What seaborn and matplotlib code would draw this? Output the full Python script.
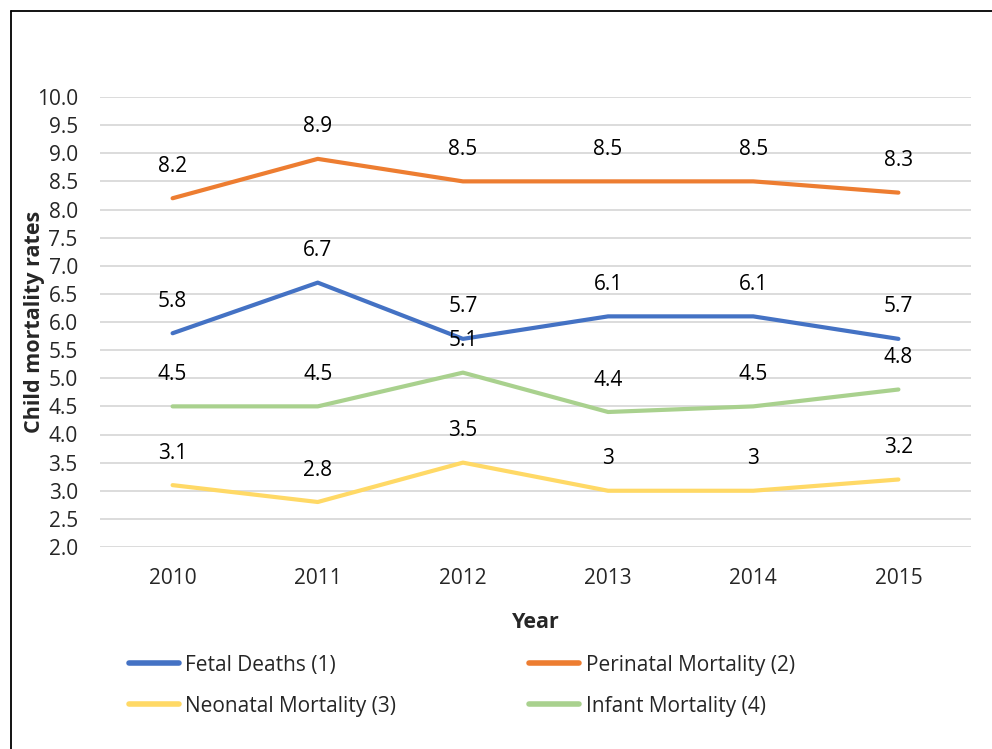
import pandas as pd
import matplotlib.pyplot as plt
import seaborn as sns
from matplotlib.lines import Line2D
import numpy as np

years = ["2010", "2011", "2012", "2013", "2014", "2015"]
fetal = [5.8, 6.7, 5.7, 6.1, 6.1, 5.7]
perinatal = [8.2, 8.9, 8.5, 8.5, 8.5, 8.3]
neonatal = [3.1, 2.8, 3.5, 3.0, 3.0, 3.2]
infant = [4.5, 4.5, 5.1, 4.4, 4.5, 4.8]

series_names = ["Fetal Deaths (1)", "Perinatal Mortality (2)",
                "Neonatal Mortality (3)", "Infant Mortality (4)"]
series_values = [fetal, perinatal, neonatal, infant]
colors = ["#4472C4", "#ED7D31", "#FFD966", "#A9D18E"]

rows = []
for name, vals in zip(series_names, series_values):
    for y, v in zip(years, vals):
        rows.append({"Year": y, "Rate": v, "Series": name})
df = pd.DataFrame(rows)

sns.set_style("white")
plt.rcParams['font.family'] = ['Open Sans', 'DejaVu Sans']

fig = plt.figure(figsize=(9.92, 7.49), dpi=100)
ax = fig.add_axes([100 / 992, 1 - 547 / 749, 871 / 992, 450 / 749])

sns.lineplot(data=df, x="Year", y="Rate", hue="Series", palette=colors,
             linewidth=3, ax=ax, legend=False, sort=False)

# etiquetas acima dos pontos
for name, vals in zip(series_names, series_values):
    for i, v in enumerate(vals):
        ax.annotate(f"{v:g}", (i, v), xytext=(0, 23), textcoords="offset points",
                    ha="center", va="center", fontsize=15, color="#000000")

ax.set_xlim(-0.5, 5.5)
ax.set_ylim(2.0, 10.0)
ticks = np.arange(2.0, 10.01, 0.5)
ax.set_yticks(ticks)
ax.set_yticklabels([f"{t:.1f}" for t in ticks])
ax.yaxis.grid(True, color="#D9D9D9", linewidth=1.3)
ax.set_axisbelow(True)
for s in ax.spines.values():
    s.set_visible(False)
ax.tick_params(axis="both", length=0, labelsize=15)
ax.tick_params(axis="y", pad=16)
ax.tick_params(axis="x", pad=15)

ax.set_xlabel("Year", fontsize=15.5, fontweight="bold")
ax.set_ylabel("Child mortality rates", fontsize=15.5, fontweight="bold")
ax.xaxis.set_label_coords(0.5, -(612 - 547) / 450)
ax.yaxis.set_label_coords(-(100 - 45) / 871, 0.5)

# ordem por linha como no original
order = [0, 2, 1, 3]
handles = [Line2D([0], [0], color=colors[i], lw=4) for i in order]
labels = [series_names[i] for i in order]
fig.legend(handles, labels, ncol=2, loc="upper left",
           bbox_to_anchor=(110 / 992, 1 - 636 / 749), frameon=False,
           fontsize=15, handlelength=2.4, columnspacing=6.4, labelspacing=0.95,
           handletextpad=0.3)

# moldura externa (esquerda e topo visíveis)
fig.add_artist(Line2D([11 / 992, 11 / 992], [0, 1 - 11 / 749], color="black", lw=1.3))
fig.add_artist(Line2D([11 / 992, 1], [1 - 11 / 749, 1 - 11 / 749], color="black", lw=1.3))

fig.savefig("out.png", dpi=100)
plt.close()
